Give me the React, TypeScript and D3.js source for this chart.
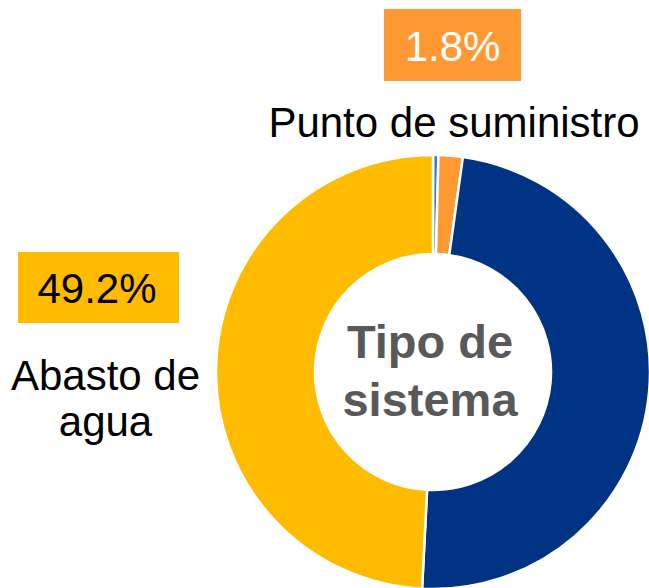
import React, { useRef, useEffect } from "react";
import * as d3 from "d3";

// slices go clockwise from 12 o'clock
const categories = ["Otro", "Punto de suministro", "Red", "Abasto de agua"];
const shares = [0.4, 1.8, 48.6, 49.2];
const colors = ["#4472C4", "#FF9933", "#003383", "#FFBB00"];
const centerLines = ["Tipo de", "sistema"];

export default function App() {
  const svgRef = useRef<SVGSVGElement>(null);

  useEffect(() => {
    const svg = d3.select(svgRef.current);
    svg.selectAll("*").remove();

    const cx = 433;
    const cy = 372;
    const outer = 217;
    const inner = 118;

    const pie = d3.pie<number>().sort(null).value((d) => d);
    const arc = d3.arc<d3.PieArcDatum<number>>().innerRadius(inner).outerRadius(outer);

    const g = svg.append("g").attr("transform", `translate(${cx},${cy})`);

    g.selectAll("path")
      .data(pie(shares))
      .enter()
      .append("path")
      .attr("d", arc)
      .attr("fill", (d, i) => colors[i])
      .attr("stroke", "#fff")
      .attr("stroke-width", 2.5);

    // center title
    svg
      .append("g")
      .selectAll("text")
      .data(centerLines)
      .enter()
      .append("text")
      .attr("x", 430)
      .attr("y", (d, i) => 358 + i * 58)
      .attr("text-anchor", "middle")
      .attr("font-family", "Liberation Sans, Arial, sans-serif")
      .attr("font-weight", "bold")
      .attr("font-size", "47px")
      .attr("fill", "#595959")
      .text((d) => d);

    const font = "Liberation Sans, Arial, sans-serif";
    const fmt = (v: number) => v.toFixed(1) + "%";

    // label for "Punto de suministro"
    const top = svg.append("g");
    top.append("rect").attr("x", 384).attr("y", 9).attr("width", 137).attr("height", 72).attr("fill", colors[1]);
    top
      .append("text")
      .attr("x", 452.5)
      .attr("y", 61)
      .attr("text-anchor", "middle")
      .attr("font-family", font)
      .attr("font-size", "42px")
      .attr("fill", "#fff")
      .text(fmt(shares[1]));
    top
      .append("text")
      .attr("x", 454)
      .attr("y", 137)
      .attr("text-anchor", "middle")
      .attr("font-family", font)
      .attr("font-size", "42px")
      .attr("fill", "#000")
      .text(categories[1]);

    // label for "Abasto de agua"
    const left = svg.append("g");
    left.append("rect").attr("x", 18).attr("y", 252).attr("width", 161).attr("height", 71).attr("fill", colors[3]);
    left
      .append("text")
      .attr("x", 97)
      .attr("y", 303)
      .attr("text-anchor", "middle")
      .attr("font-family", font)
      .attr("font-size", "42px")
      .attr("fill", "#000")
      .text(fmt(shares[3]));
    left
      .selectAll("text.name")
      .data(["Abasto de", "agua"])
      .enter()
      .append("text")
      .attr("class", "name")
      .attr("x", 105.5)
      .attr("y", (d, i) => 390 + i * 46)
      .attr("text-anchor", "middle")
      .attr("font-family", font)
      .attr("font-size", "42px")
      .attr("fill", "#000")
      .text((d) => d);
  }, []);

  return (
    <div style={{ position: "absolute", left: 0, top: 0 }}>
      <svg ref={svgRef} width={649} height={588} style={{ display: "block" }}></svg>
    </div>
  );
}
